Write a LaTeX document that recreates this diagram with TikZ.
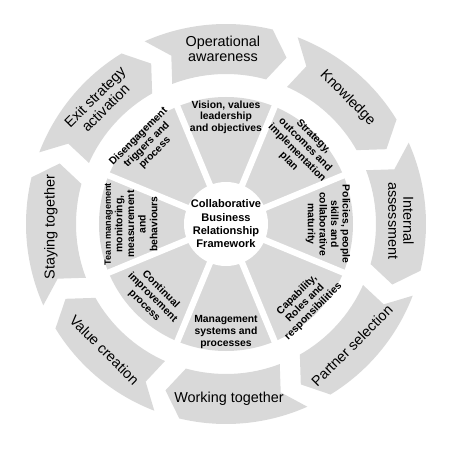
\documentclass[tikz,border=0pt]{standalone}
\usepackage{fontspec}
\setmainfont{Liberation Sans}
\usepackage{tikz}
\definecolor{segfill}{gray}{0.85}

\begin{document}
\begin{tikzpicture}[scale=0.02,
    seg/.style={fill=segfill},
    outlbl/.style={align=center, font=\fontsize{8.2}{8.6}\selectfont},
    inlbl/.style={align=center, font=\fontsize{5.9}{6.6}\selectfont\bfseries}]
    \useasboundingbox (-226,-227) rectangle (224,224);

    % outer ring of arrows
    \foreach \c/\r/\t [count=\i] in {90/0/{Operational\\awareness}, 45/-45/Knowledge,
        0/-90/{Internal\\assessment}, -45/45/{Partner selection}, -90/0/{Working together},
        -135/-45/{Value creation}, 180/90/{Staying together}, 135/45/{Exit strategy\\activation}} {
        \fill[seg] ({\c+24}:200) arc[start angle=\c+24, end angle=\c-13.5, radius=200]
            -- ({\c-20}:177) -- ({\c-15.5}:150) arc[start angle=\c-15.5, end angle=\c+21, radius=150]
            -- ({\c+18}:177) -- cycle;
        \node[outlbl, rotate=\r] (out\i) at ({\c+1}:175) {\t};
    }

    % inner ring
    \fill[seg] (0,0) circle (127);
    \foreach \a in {22.5,67.5,...,337.5}
        \draw[white, line width=3.6pt] (0,0) -- (\a:130);
    \fill[white] (0,0) circle (42);

    \node[align=center, font=\fontsize{6.3}{7.6}\selectfont\bfseries] (frame) at (0,0)
        {Collaborative\\Business\\Relationship\\Framework};

    \foreach \c/\r/\d/\t [count=\i] in {90/0/107/{Vision, values\\leadership\\and objectives},
        45/-45/106/{Strategy,\\outcomes and\\implementation\\plan},
        0/-90/102/{Policies, people\\skills and\\collaborative\\maturity},
        -45/45/112/{Capability,\\Roles and\\responsibilities},
        -90/0/108/{Management\\systems and\\processes},
        -135/-45/104/{Continual\\improvement\\process},
        180/90/95/{\fontsize{5.2}{6.1}\selectfont Team management\\monitoring,\\measurement\\and\\behaviours},
        135/45/112/{Disengagement\\triggers and\\process}}
        \node[inlbl, rotate=\r] (in\i) at (\c:\d) {\t};
\end{tikzpicture}
\end{document}
